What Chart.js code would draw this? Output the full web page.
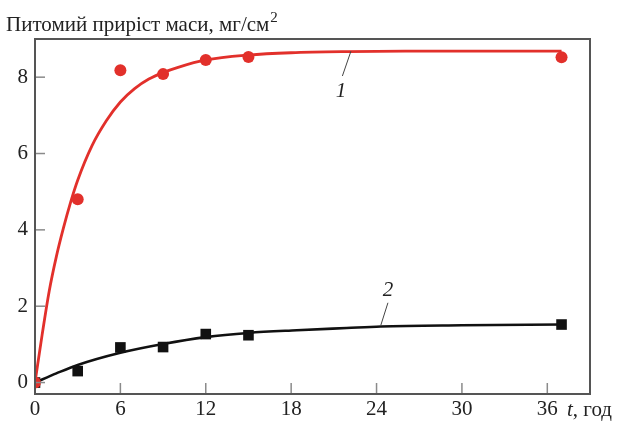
<!DOCTYPE html>
<html lang="uk">
<head>
  <meta charset="UTF-8">
  <title>Питомий приріст маси</title>
  <style>
    body { margin: 0; padding: 0; background: #ffffff; }
    #wrap { width: 617px; height: 422px; }
  </style>
  <script src="https://cdn.jsdelivr.net/npm/chart.js"></script>
</head>
<body>
  <div id="wrap"><canvas id="massChart" width="617" height="422"></canvas></div>
  <script>
    // measured points (t, years -> mg/cm2)
    const pointsT = [0, 3, 6, 9, 12, 15, 37];
    const red1 = [0, 4.8, 8.18, 8.08, 8.45, 8.53, 8.52];
    const black2 = [0, 0.3, 0.92, 0.93, 1.27, 1.24, 1.52];

    // fitted curves
    const curve1T = [0, 0.5, 1, 1.5, 2, 2.5, 3, 4, 5, 6, 7, 8, 9, 10, 12, 15, 18, 22, 26, 37];
    const curve1V = [0, 1.25, 2.4, 3.3, 4.05, 4.72, 5.3, 6.2, 6.85, 7.35, 7.7, 7.95, 8.12, 8.25, 8.45, 8.58, 8.64, 8.67, 8.68, 8.68];
    const curve2T = [0, 1.5, 3, 6, 9, 12, 15, 18.4, 21.9, 24.3, 30, 37];
    const curve2V = [0, 0.24, 0.46, 0.78, 1.01, 1.19, 1.3, 1.37, 1.43, 1.47, 1.5, 1.52];

    const xTicks = [0, 6, 12, 18, 24, 30, 36];
    const yTicks = [0, 2, 4, 6, 8];

    const SERIF = '"Liberation Serif", "DejaVu Serif", serif';
    const RED = '#e2302b';

    function xy(ts, vs) {
      return ts.map((t, i) => ({ x: t, y: vs[i] }));
    }

    // frame, inner ticks and all free text
    const decor = {
      id: 'decor',
      afterDraw(chart) {
        const ctx = chart.ctx;
        const a = chart.chartArea;
        const xs = chart.scales.x, ys = chart.scales.y;
        ctx.save();

        // inner ticks
        ctx.strokeStyle = '#8a8a8a';
        ctx.lineWidth = 1.5;
        xTicks.forEach(v => {
          const px = xs.getPixelForValue(v);
          ctx.beginPath(); ctx.moveTo(px, a.bottom); ctx.lineTo(px, a.bottom - 11); ctx.stroke();
        });
        yTicks.forEach(v => {
          const py = ys.getPixelForValue(v);
          ctx.beginPath(); ctx.moveTo(a.left, py); ctx.lineTo(a.left + 10, py); ctx.stroke();
        });

        // frame
        ctx.strokeStyle = '#555555';
        ctx.lineWidth = 2;
        ctx.strokeRect(a.left, a.top, a.right - a.left, a.bottom - a.top);

        // title
        ctx.fillStyle = '#222222';
        ctx.textBaseline = 'alphabetic';
        ctx.textAlign = 'left';
        ctx.font = '21px ' + SERIF;
        const title = 'Питомий приріст маси, мг/см';
        ctx.fillText(title, 6, 31);
        const w = ctx.measureText(title).width;
        ctx.font = '15px ' + SERIF;
        ctx.fillText('2', 6 + w + 1, 22);

        // x axis name
        ctx.font = 'italic 21px ' + SERIF;
        ctx.fillText('t', 567, 416);
        const tw = ctx.measureText('t').width;
        ctx.font = '21px ' + SERIF;
        ctx.fillText(', год', 567 + tw, 416);

        // curve labels with leaders
        ctx.strokeStyle = '#444444';
        ctx.lineWidth = 1;
        ctx.beginPath();
        ctx.moveTo(xs.getPixelForValue(22.2), ys.getPixelForValue(8.68));
        ctx.lineTo(xs.getPixelForValue(21.6), ys.getPixelForValue(8.03));
        ctx.moveTo(xs.getPixelForValue(24.8), ys.getPixelForValue(2.09));
        ctx.lineTo(xs.getPixelForValue(24.3), ys.getPixelForValue(1.5));
        ctx.stroke();
        ctx.font = 'italic 21px ' + SERIF;
        ctx.textAlign = 'center';
        ctx.textBaseline = 'middle';
        ctx.fillText('1', xs.getPixelForValue(21.5), ys.getPixelForValue(7.63));
        ctx.fillText('2', xs.getPixelForValue(24.8), ys.getPixelForValue(2.4));
        ctx.restore();
      }
    };

    new Chart(document.getElementById('massChart'), {
      type: 'scatter',
      data: {
        datasets: [
          {
            data: xy(pointsT, red1),
            pointStyle: 'circle', pointRadius: 6,
            backgroundColor: RED, borderColor: RED, borderWidth: 0,
            clip: 0, order: 0
          },
          {
            data: xy(pointsT, black2),
            pointStyle: 'rect', pointRadius: 7.5,
            backgroundColor: '#111111', borderColor: '#111111', borderWidth: 0,
            clip: 0, order: 0
          },
          {
            data: xy(curve1T, curve1V),
            showLine: true, pointRadius: 0,
            borderColor: RED, borderWidth: 2.8,
            cubicInterpolationMode: 'monotone',
            clip: 0, order: 1
          },
          {
            data: xy(curve2T, curve2V),
            showLine: true, pointRadius: 0,
            borderColor: '#111111', borderWidth: 2.6,
            cubicInterpolationMode: 'monotone',
            clip: 0, order: 1
          }
        ]
      },
      options: {
        responsive: false,
        animation: false,
        devicePixelRatio: 1,
        layout: { padding: { left: 0, right: 27, top: 39, bottom: 0 } },
        plugins: {
          legend: { display: false },
          tooltip: { enabled: false },
          title: { display: false }
        },
        scales: {
          x: {
            type: 'linear', min: 0, max: 39,
            afterBuildTicks: s => { s.ticks = xTicks.map(v => ({ value: v })); },
            afterFit: s => { s.height = 28; },
            grid: { display: false, drawTicks: false },
            border: { display: false },
            ticks: { color: '#222222', padding: 3, maxRotation: 0, font: { family: SERIF, size: 21 } }
          },
          y: {
            type: 'linear', min: -0.3, max: 9,
            afterBuildTicks: s => { s.ticks = yTicks.map(v => ({ value: v })); },
            afterFit: s => { s.width = 35; },
            grid: { display: false, drawTicks: false },
            border: { display: false },
            ticks: { color: '#222222', padding: 7, font: { family: SERIF, size: 21 } }
          }
        }
      },
      plugins: [decor]
    });
  </script>
</body>
</html>
